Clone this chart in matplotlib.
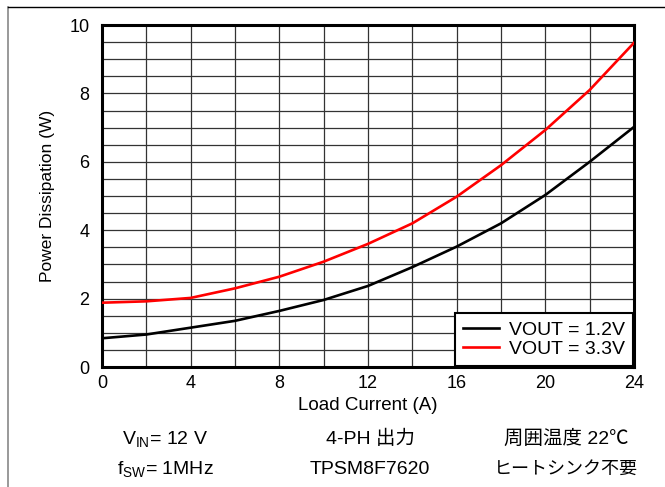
import matplotlib
matplotlib.use("Agg")
import matplotlib.pyplot as plt
from matplotlib.lines import Line2D

plt.rcParams['font.family'] = ['Liberation Sans', 'Noto Sans CJK JP', 'DejaVu Sans']
plt.rcParams['mathtext.fontset'] = 'custom'
plt.rcParams['mathtext.rm'] = 'Liberation Sans'
plt.rcParams['mathtext.it'] = 'Liberation Sans'

load_current = [0, 2, 4, 6, 8, 10, 12, 14, 16, 18, 20, 22, 24]
pd_1v2 = [0.84, 0.95, 1.15, 1.35, 1.64, 1.96, 2.37, 2.92, 3.52, 4.2, 5.03, 6.0, 7.02]
pd_3v3 = [1.88, 1.92, 2.02, 2.3, 2.64, 3.08, 3.6, 4.2, 4.98, 5.9, 6.93, 8.1, 9.48]
x_ticks = [0, 4, 8, 12, 16, 20, 24]
y_ticks = [0, 2, 4, 6, 8, 10]

fig = plt.figure(figsize=(6.65, 4.87), dpi=100)
ax = fig.add_axes([102 / 665, 1 - 367 / 487, 532 / 665, 342 / 487])

ax.plot(load_current, pd_1v2, color="black", lw=1.9, label="VOUT = 1.2V", zorder=3)
ax.plot(load_current, pd_3v3, color="red", lw=1.9, label="VOUT = 3.3V", zorder=3)

ax.set_xlim(0, 24)
ax.set_ylim(0, 10)
ax.set_xticks(x_ticks)
ax.set_yticks(y_ticks)
ax.set_xticks(range(0, 25, 2), minor=True)
ax.set_yticks([i * 0.5 for i in range(21)], minor=True)
ax.grid(which="both", color="#333333", lw=0.9)
ax.tick_params(which="both", length=0, labelsize=13, pad=6)
ax.tick_params(axis="y", pad=9)
for s in ax.spines.values():
    s.set_linewidth(2.2)
ax.set_xlabel("Load Current (A)", fontsize=13.5, labelpad=3)
ax.set_ylabel("Power Dissipation (W)", fontsize=12.5, labelpad=10)

leg = ax.legend(loc="lower right", fontsize=14, frameon=True, fancybox=False,
                borderaxespad=0.05, borderpad=0.4, handlelength=1.85,
                handletextpad=0.55, labelspacing=0.1)
leg.get_frame().set_edgecolor("black")
leg.get_frame().set_linewidth(1.5)
leg.get_frame().set_alpha(1)

fs = 14
fig.text(165 / 665, 1 - 439 / 487, r"V$_{\mathrm{IN}}$= 12 V", ha="center", va="center", fontsize=fs)
fig.text(370 / 665, 1 - 439 / 487, "4-PH 出力", ha="center", va="center", fontsize=fs)
fig.text(566 / 665, 1 - 439 / 487, "周囲温度 22℃", ha="center", va="center", fontsize=fs)
fig.text(165 / 665, 1 - 469 / 487, r"f$_{\mathrm{SW}}$= 1MHz", ha="center", va="center", fontsize=fs)
fig.text(370 / 665, 1 - 469 / 487, "TPSM8F7620", ha="center", va="center", fontsize=fs)
fig.text(566 / 665, 1 - 469 / 487, "ヒートシンク不要", ha="center", va="center", fontsize=13)

# outer frame lines
fig.add_artist(Line2D([7.5 / 665, 7.5 / 665], [0, 1 - 7 / 487], color="#888888", lw=1.2))
fig.add_artist(Line2D([7.5 / 665, 1], [1 - 7 / 487, 1 - 7 / 487], color="black", lw=1.0))

fig.savefig("out.png", dpi=100)
